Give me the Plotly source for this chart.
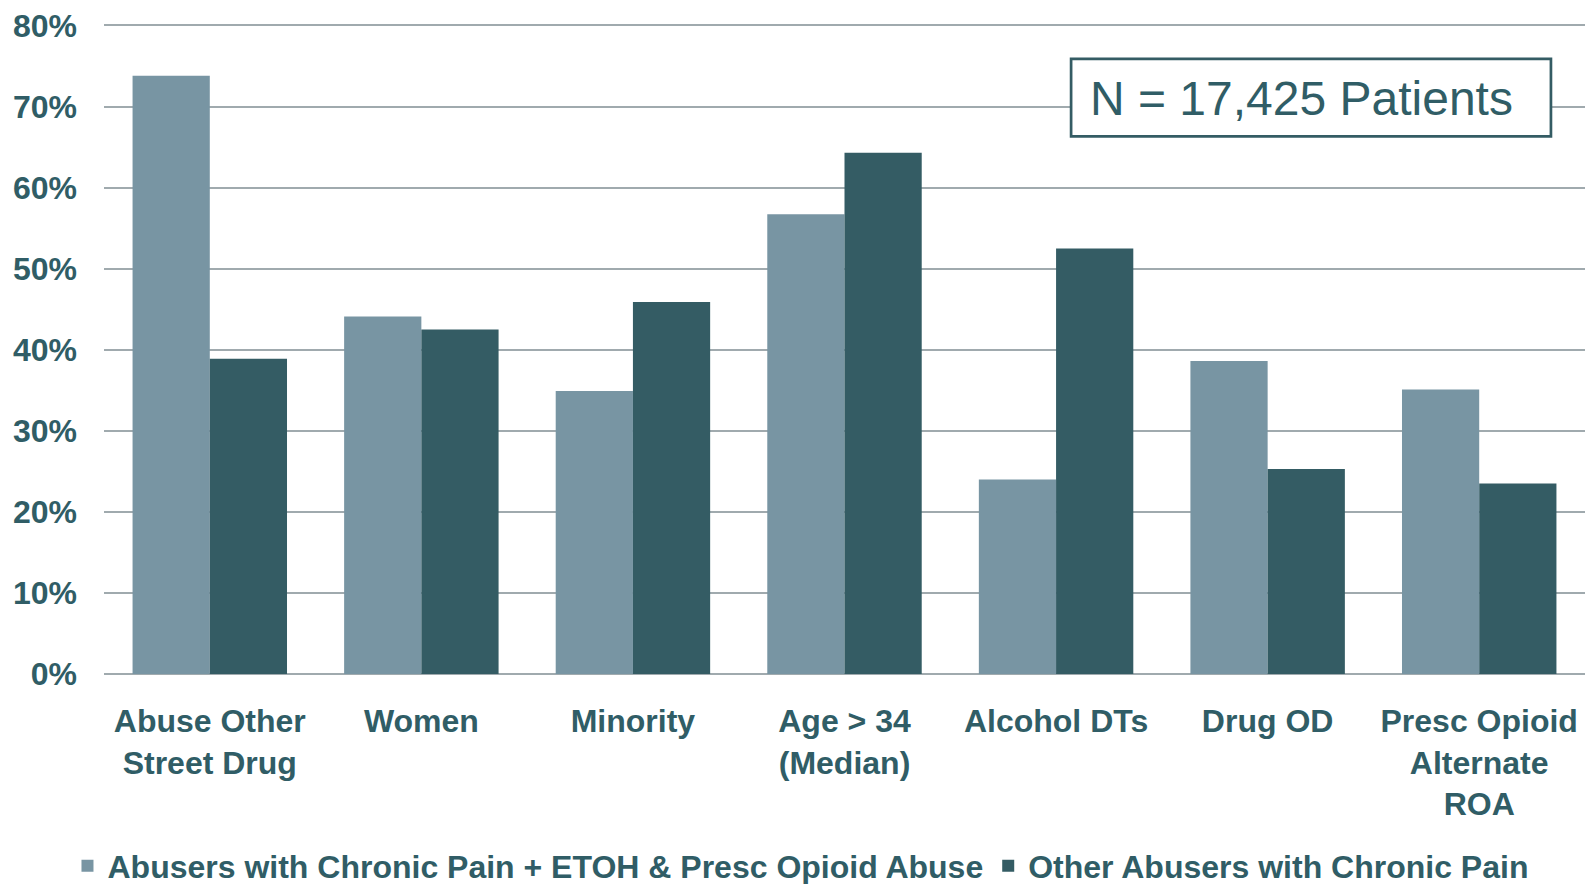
import plotly.graph_objects as go

# Categories (x-axis) and the two patient groups (percent of patients)
categories = [
    "Abuse Other<br>Street Drug",
    "Women",
    "Minority",
    "Age > 34<br>(Median)",
    "Alcohol DTs",
    "Drug OD",
    "Presc Opioid<br>Alternate<br>ROA",
]
series_names = [
    "Abusers with Chronic Pain + ETOH & Presc Opioid Abuse",
    "Other Abusers with Chronic Pain",
]
etoh_presc_values = [73.8, 44.1, 34.9, 56.7, 24.0, 38.6, 35.1]
other_values = [38.9, 42.5, 45.9, 64.3, 52.5, 25.3, 23.5]
y_ticks = [0, 10, 20, 30, 40, 50, 60, 70, 80]
y_tick_labels = [f"{v}%" for v in y_ticks]
note_text = "N = 17,425 Patients"

TEXT = "#305D66"
LIGHT = "#7895A3"
DARK = "#345C64"
GRID = "#A0AAAE"
FONT = "Liberation Sans, Arial, sans-serif"

fig = go.Figure()
fig.add_trace(go.Bar(x=categories, y=etoh_presc_values, name=series_names[0],
                     marker=dict(color=LIGHT, line=dict(width=0))))
fig.add_trace(go.Bar(x=categories, y=other_values, name=series_names[1],
                     marker=dict(color=DARK, line=dict(width=0))))

# Sample-size box in the upper right of the plot (white fill hides gridlines)
fig.add_shape(
    type="rect", xref="paper", yref="paper",
    x0=0.653, x1=0.977, y0=0.8257, y1=0.945,
    fillcolor="white", line=dict(color=DARK, width=2.7), layer="above",
)
fig.add_annotation(
    x=0.8087, y=0.8838, xref="paper", yref="paper",
    xanchor="center", yanchor="middle",
    text=note_text, showarrow=False,
    font=dict(family=FONT, size=48, color=TEXT),
)

fig.update_layout(
    width=1593, height=884,
    margin=dict(l=104, r=8, t=20, b=210),
    paper_bgcolor="white", plot_bgcolor="white",
    barmode="group", bargap=0.27, bargroupgap=0,
    font=dict(family=FONT, color=TEXT, size=32),
    showlegend=True,
    legend=dict(
        orientation="h", xref="container", yref="container",
        x=0.5025, xanchor="center", y=0.0205, yanchor="middle",
        font=dict(family=FONT, size=32, color=TEXT, weight="bold"),
        itemwidth=30, tracegroupgap=0,
    ),
    xaxis=dict(
        showgrid=False, showline=False, zeroline=False,
        tickfont=dict(family=FONT, size=32, color=TEXT, weight="bold"),
        ticks="", ticklabelstandoff=25,
    ),
    yaxis=dict(
        range=[0, 80.3], tickvals=y_ticks, ticktext=y_tick_labels,
        showgrid=True, gridcolor=GRID, gridwidth=2,
        zeroline=True, zerolinecolor=GRID, zerolinewidth=2,
        showline=False, ticks="", ticklabelstandoff=26,
        tickfont=dict(family=FONT, size=32, color=TEXT, weight="bold"),
    ),
)

fig.write_html("out.html")
